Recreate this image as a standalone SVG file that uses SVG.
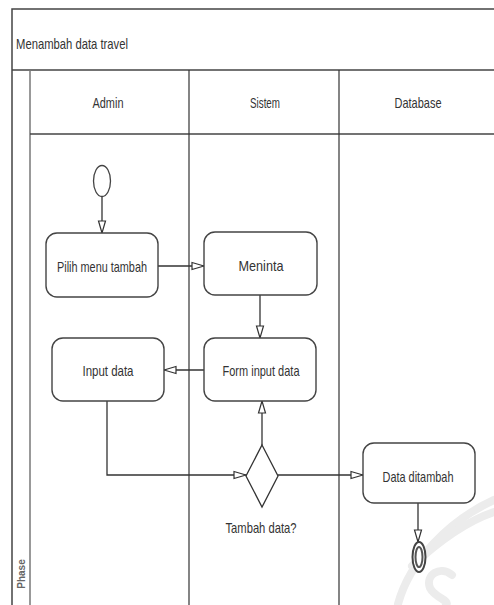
<svg xmlns="http://www.w3.org/2000/svg" width="494" height="605" viewBox="0 0 494 605">
<defs>
<marker id="arr" markerWidth="14" markerHeight="10" refX="13" refY="5" orient="auto" markerUnits="userSpaceOnUse">
<path d="M1,1.5 L13,5 L1,8.5 Z" fill="#fff" stroke="#333" stroke-width="1.2"/>
</marker>
<style>
.ln{stroke:#333;stroke-width:1.3;fill:none}
.box{fill:#fff;stroke:#444;stroke-width:1.4}
.t{font-family:"Liberation Sans",Arial,sans-serif;font-size:15px;fill:#333;text-anchor:middle;dominant-baseline:central}
.wm{fill:none;stroke:#ececec;stroke-width:8;stroke-linecap:round}
</style>
</defs>
<rect width="494" height="605" fill="#fff"/>
<g id="watermark">
<path class="wm" d="M398,604 C410,560 450,520 494,500"/>
<path class="wm" d="M412,566 C440,540 470,520 494,512"/>
<path class="wm" d="M452,575 C440,565 425,575 430,588 C435,598 450,600 446,605"/>
</g>
<g id="frame">
<rect x="12" y="9" width="490" height="600" fill="none" stroke="#444" stroke-width="1.5"/>
<line x1="12" y1="70" x2="494" y2="70" stroke="#444" stroke-width="1.5"/>
<line x1="30" y1="70" x2="30" y2="605" stroke="#777" stroke-width="1.5"/>
<line x1="30" y1="134" x2="494" y2="134" stroke="#444" stroke-width="1.3"/>
<line x1="189" y1="70" x2="189" y2="605" stroke="#333" stroke-width="1.2"/>
<line x1="339" y1="70" x2="339" y2="605" stroke="#333" stroke-width="1.2"/>
<text class="t" x="72" y="43" textLength="112" lengthAdjust="spacingAndGlyphs">Menambah data travel</text>
<text class="t" x="108" y="102" textLength="31" lengthAdjust="spacingAndGlyphs">Admin</text>
<text class="t" x="265" y="102" textLength="30" lengthAdjust="spacingAndGlyphs">Sistem</text>
<text class="t" x="418" y="102" textLength="47" lengthAdjust="spacingAndGlyphs">Database</text>
<text x="0" y="0" transform="translate(21,574) rotate(-90)" font-family="Liberation Sans,Arial,sans-serif" font-size="10" font-weight="bold" fill="#666" text-anchor="middle" dominant-baseline="central">Phase</text>
</g>
<g id="connectors">
<line class="ln" x1="102" y1="197" x2="102" y2="233" marker-end="url(#arr)"/>
<line class="ln" x1="158" y1="266" x2="204" y2="266" marker-end="url(#arr)"/>
<line class="ln" x1="260" y1="295" x2="260" y2="338" marker-end="url(#arr)"/>
<line class="ln" x1="204" y1="370" x2="164" y2="370" marker-end="url(#arr)"/>
<line class="ln" x1="262" y1="445" x2="262" y2="401" marker-end="url(#arr)"/>
<polyline class="ln" points="107,401 107,475 246,475" marker-end="url(#arr)"/>
<line class="ln" x1="278" y1="475" x2="363" y2="475" marker-end="url(#arr)"/>
<line class="ln" x1="418" y1="503" x2="418" y2="542" marker-end="url(#arr)"/>
</g>
<g id="start">
<ellipse cx="102" cy="181" rx="8.5" ry="15.5" fill="#fff" stroke="#444" stroke-width="1.3"/>
</g>
<g id="pilih">
<rect class="box" x="46" y="233" width="112" height="64" rx="11"/>
<text class="t" x="102" y="266" textLength="90" lengthAdjust="spacingAndGlyphs">Pilih menu tambah</text>
</g>
<g id="meninta">
<rect class="box" x="204" y="232" width="113" height="63" rx="11"/>
<text class="t" x="261" y="265" textLength="45" lengthAdjust="spacingAndGlyphs">Meninta</text>
</g>
<g id="form">
<rect class="box" x="204" y="338" width="112" height="63" rx="11"/>
<text class="t" x="261" y="370" textLength="77" lengthAdjust="spacingAndGlyphs">Form input data</text>
</g>
<g id="input">
<rect class="box" x="52" y="338" width="112" height="63" rx="11"/>
<text class="t" x="108" y="370" textLength="51" lengthAdjust="spacingAndGlyphs">Input data</text>
</g>
<g id="decision">
<polygon points="262,445 278,476 262,507 246,476" fill="#fff" stroke="#333" stroke-width="1.3"/>
<text class="t" x="261" y="527" textLength="71" lengthAdjust="spacingAndGlyphs">Tambah data?</text>
</g>
<g id="ditambah">
<rect class="box" x="363" y="443" width="112" height="60" rx="11"/>
<text class="t" x="418" y="476" textLength="71" lengthAdjust="spacingAndGlyphs">Data ditambah</text>
</g>
<g id="end">
<ellipse cx="419" cy="557" rx="6.5" ry="15" fill="#fff" stroke="#444" stroke-width="2"/>
<ellipse cx="419" cy="557" rx="3.5" ry="10" fill="none" stroke="#555" stroke-width="2"/>
</g>
</svg>
